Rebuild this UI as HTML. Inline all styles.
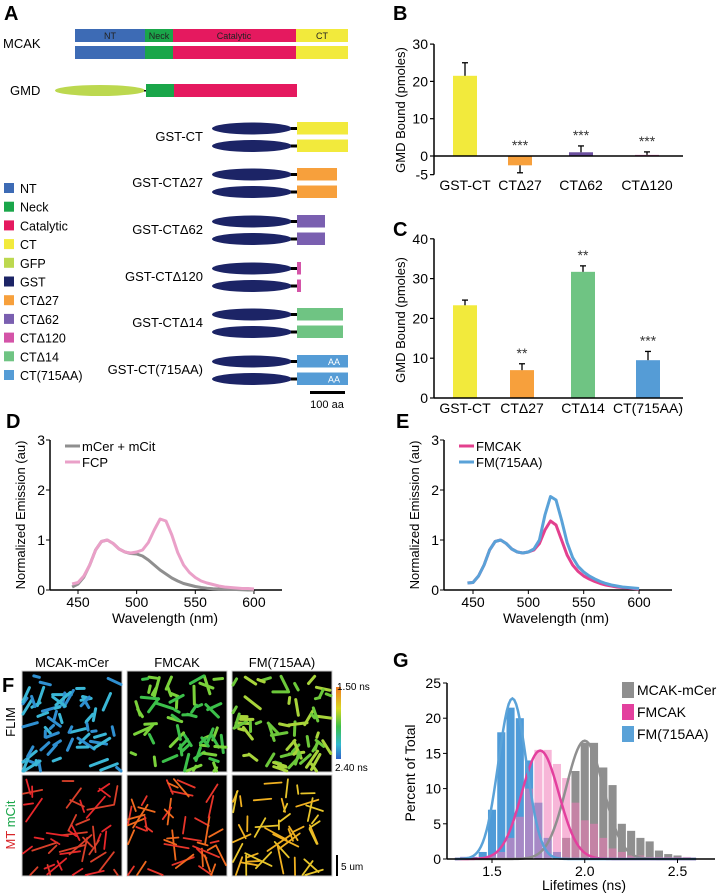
<!DOCTYPE html>
<html><head><meta charset="utf-8"><style>
html,body{margin:0;padding:0;background:#fff;}
svg{display:block;font-family:"Liberation Sans",Arial,sans-serif;}
</style></head><body>
<svg id="fig" width="720" height="893" viewBox="0 0 720 893">
<g id="panelA">
 <text x="4" y="20" font-size="20" font-weight="bold">A</text>
 <text x="3" y="48" font-size="13">MCAK</text>
 <rect x="75" y="29" width="70" height="13" fill="#3d6bb5"/><rect x="145" y="29" width="28" height="13" fill="#1aa64a"/><rect x="173" y="29" width="123" height="13" fill="#e5195f"/><rect x="296" y="29" width="52" height="13" fill="#f2ea3c"/>
 <rect x="75" y="46" width="70" height="13" fill="#3d6bb5"/><rect x="145" y="46" width="28" height="13" fill="#1aa64a"/><rect x="173" y="46" width="123" height="13" fill="#e5195f"/><rect x="296" y="46" width="52" height="13" fill="#f2ea3c"/>
 <g font-size="9" fill="#222" text-anchor="middle"><text x="110" y="39">NT</text><text x="159" y="39">Neck</text><text x="234" y="39">Catalytic</text><text x="322" y="39">CT</text></g>
 <text x="10" y="95" font-size="13">GMD</text>
 <ellipse cx="100" cy="90.5" rx="45" ry="5.5" fill="#bcd84f"/><rect x="144" y="90" width="3" height="1.5" fill="#000"/>
 <rect x="146" y="84" width="28" height="13" fill="#1aa64a"/><rect x="174" y="84" width="123" height="13" fill="#e5195f"/>
 <g id="constructs"></g>
 <g id="legendA"></g>
 <rect x="310" y="391" width="35" height="3" fill="#000"/>
 <text x="327" y="408" font-size="11" text-anchor="middle">100 aa</text>
</g>
<g id="panelB"></g>
<g id="panelC"></g>
<g id="panelD"></g>
<g id="panelE"></g>
<g id="panelF"></g>
<g id="panelG"></g>
</svg>
<script>
// ---- Panel B data ----
const bCats = ["GST-CT","CTΔ27","CTΔ62","CTΔ120"];
const bVals = [21.5,-2.5,1.0,0.3];
const bErr = [3.5,2.0,1.7,0.8];
const bStars = ["","***","***","***"];
const bColors = ["#f2ea3c","#f7a03c","#6b4f9e","#d86fb0"];
const bTicks = [30,20,10,0,-5];
// ---- Panel C data ----
const cCats = ["GST-CT","CTΔ27","CTΔ14","CT(715AA)"];
const cVals = [23.3,7.0,31.7,9.5];
const cErr = [1.3,1.6,1.5,2.2];
const cStars = ["","**","**","***"];
const cColors = ["#f2ea3c","#f7a03c","#6fc483","#559cd6"];
const cTicks = [0,10,20,30,40];
// ---- Panel D/E data ----
const wl = [445,450,455,460,465,470,475,480,485,490,495,500,505,510,515,520,525,530,535,540,545,550,555,560,565,570,575,580,585,590,595,600];
const dGray = [0.06,0.12,0.26,0.5,0.8,0.97,1.0,0.93,0.82,0.76,0.73,0.72,0.68,0.6,0.5,0.4,0.32,0.24,0.18,0.13,0.1,0.07,0.05,0.035,0.025,0.02,0.015,0.01,0.01,0.005,0,0];
const dFCP = [0.12,0.15,0.28,0.5,0.8,0.97,1.0,0.93,0.82,0.76,0.74,0.76,0.8,0.95,1.2,1.42,1.38,1.1,0.75,0.5,0.35,0.25,0.18,0.14,0.11,0.08,0.06,0.05,0.04,0.03,0.03,0.02];
const eFMCAK = [0.14,0.15,0.28,0.5,0.8,0.97,1.0,0.93,0.82,0.76,0.74,0.76,0.8,0.93,1.2,1.38,1.3,1.0,0.7,0.5,0.37,0.28,0.22,0.17,0.13,0.1,0.08,0.06,0.05,0.04,0.03,0.02];
const eFM715 = [0.14,0.15,0.28,0.5,0.8,0.97,1.0,0.93,0.82,0.76,0.74,0.76,0.82,1.0,1.5,1.87,1.8,1.4,0.95,0.65,0.47,0.36,0.28,0.22,0.17,0.13,0.1,0.08,0.06,0.05,0.04,0.03];
const specXTicks = [450,500,550,600];
const specYTicks = [0,1,2,3];
// ---- Panel G data ----
const gBins = [1.35,1.4,1.45,1.5,1.55,1.6,1.65,1.7,1.75,1.8,1.85,1.9,1.95,2.0,2.05,2.1,2.15,2.2,2.25,2.3,2.35,2.4,2.45,2.5,2.55];
const gGray = [0,0,0,0,0,0,0,0,0,0,0.5,3,12.5,16.5,16.5,13,10.5,5,4,3,2.5,1.2,0.7,0.5,0];
const gBlue = [0.3,0.3,1,7,18,21.5,20,14,8,3,1,0,0,0,0,0,0,0,0,0,0,0,0,0,0];
const gPink = [0.3,0,0.3,0.5,1,3,6,10,15.5,15.5,13.5,11.5,8,5.5,5,3,1.5,1,0.5,0.5,0.3,0.3,0.3,0.3,0.3];
const gFitMean = [2.0,1.76,1.61];
const gFitAmp = [16.8,15.4,22.8];
const gFitSd = [0.1,0.1,0.075];
const gNames = ["MCAK-mCer","FMCAK","FM(715AA)"];
const gTicks = [0,5,10,15,20,25];
const gXTicks = [1.5,2.0,2.5];

const NS="http://www.w3.org/2000/svg";
function el(tag,attrs,parent,text){const e=document.createElementNS(NS,tag);for(const k in attrs)e.setAttribute(k,attrs[k]);if(text!==undefined)e.textContent=text;parent.appendChild(e);return e;}

// ---- Panel A constructs ----
(function(){
 const g=document.getElementById('constructs');
 const cons=[["GST-CT",122,348,"#f2ea3c",""],["GST-CTΔ27",168,337,"#f7a03c",""],["GST-CTΔ62",215,325,"#7a5fb0",""],["GST-CTΔ120",262,301,"#d454a8",""],["GST-CTΔ14",308,343,"#6fc483",""],["GST-CT(715AA)",355,348,"#559cd6","AA"]];
 cons.forEach(c=>{
  const lab=el('text',{x:203,y:c[1]+19,'font-size':13,'text-anchor':'end'},g,c[0]);
  
  
  [0,17.5].forEach(dy=>{
   const y=c[1]+dy;
   el('ellipse',{cx:252,cy:y+6.5,rx:40,ry:6,fill:'#1c2466'},g);
   el('rect',{x:291,y:y+5,width:6,height:3,fill:'#000'},g);
   const r=el('rect',{x:297,y:y,width:c[2]-297,height:12.5,fill:c[3]},g);
   
   
   if(c[4]) el('text',{x:340,y:y+10,'font-size':9,'text-anchor':'end',fill:'#fff'},g,c[4]);
  });
 });
 const lg=document.getElementById('legendA');
 const items=[["NT","#3d6bb5"],["Neck","#1aa64a"],["Catalytic","#e5195f"],["CT","#f2ea3c"],["GFP","#bcd84f"],["GST","#1c2466"],["CTΔ27","#f7a03c"],["CTΔ62","#7a5fb0"],["CTΔ120","#d454a8"],["CTΔ14","#6fc483"],["CT(715AA)","#559cd6"]];
 items.forEach((it,i)=>{
  const y=183+i*18.7;
  const s=el('rect',{x:4,y:y,width:10,height:10,fill:it[1]},lg);
  
  
  const t=el('text',{x:20,y:y+10,'font-size':12.5},lg,it[0]);
  
  
 });
})();

// ---- Bar charts ----
function barChart(gid,label,labY,cats,vals,errs,stars,colors,ticks,x0,x1,y0,pxPer,catX,labelY,ylabY){
 const g=document.getElementById(gid);
 const y=v=>y0-v*pxPer;
 el('text',{x:393,y:labY,'font-size':20,'font-weight':'bold'},g,label);
 el('line',{x1:x0,x2:x0,y1:y(ticks.reduce((a,b)=>Math.max(a,b))),y2:y(ticks.reduce((a,b)=>Math.min(a,b))),stroke:'#000','stroke-width':1.5},g);
 ticks.forEach(t=>{el('line',{x1:x0-4,x2:x0,y1:y(t),y2:y(t),stroke:'#000','stroke-width':1.2},g);
  const tl=el('text',{x:x0-6,y:y(t)+5,'font-size':14,'text-anchor':'end'},g,String(t));
  
  });
 cats.forEach((c,i)=>{
  const cx=catX[i],v=vals[i],e=errs[i];
  const top=y(Math.max(v,0)),bot=y(Math.min(v,0));
  const b=el('rect',{x:cx-12,y:top,width:24,height:Math.max(bot-top,1),fill:colors[i]},g);
  
  
  const ev=v+(v<0?-e:e);
  el('line',{x1:cx,x2:cx,y1:y(v),y2:y(ev),stroke:'#000','stroke-width':1.3},g);
  el('line',{x1:cx-3,x2:cx+3,y1:y(ev),y2:y(ev),stroke:'#000','stroke-width':1.3},g);
  const xl=el('text',{x:cx,y:labelY,'font-size':14,'text-anchor':'middle'},g,c);
  
  
  if(stars[i]){const st=el('text',{x:cx,y:y(Math.max(ev,0))-6,'font-size':14,'text-anchor':'middle',fill:'#333'},g,stars[i]);
   
   }
 });
 el('line',{x1:x0,x2:x1,y1:y0,y2:y0,stroke:'#000','stroke-width':1.5},g);
 const yl=el('text',{transform:`translate(405,${ylabY}) rotate(-90)`,'font-size':13,'text-anchor':'middle'},g,'GMD Bound (pmoles)');
 
 
}
barChart('panelB','B',20,bCats,bVals,bErr,bStars,bColors,bTicks,434,683,156,3.73,[465,520,581,647],190,110);
barChart('panelC','C',236,cCats,cVals,cErr,cStars,cColors,cTicks,434,683,398,3.98,[465,522,583,648],413,320);

// ---- Spectra ----
function spectra(gid,label,lx,ax,x450,ppn,axEnd,series,colors,names,cx){
 const g=document.getElementById(gid);
 const X=w=>x450+(w-450)*ppn, Y=v=>590-v*50;
 el('text',{x:lx,y:428,'font-size':20,'font-weight':'bold'},g,label);
 el('line',{x1:ax,x2:ax,y1:440,y2:590,stroke:'#000','stroke-width':1.5},g);
 el('line',{x1:ax,x2:axEnd,y1:590,y2:590,stroke:'#000','stroke-width':1.5},g);
 specYTicks.forEach(t=>{el('line',{x1:ax-4,x2:ax,y1:Y(t),y2:Y(t),stroke:'#000'},g);
  el('text',{x:ax-5,y:Y(t)+5,'font-size':14,'text-anchor':'end'},g,String(t));});
 specXTicks.forEach(t=>{el('line',{x1:X(t),x2:X(t),y1:590,y2:594,stroke:'#000'},g);
  const tl=el('text',{x:X(t),y:607,'font-size':14,'text-anchor':'middle'},g,String(t));
  
  });
 series.forEach((s,i)=>{
  const p=el('polyline',{points:s.map((v,j)=>X(wl[j])+','+Y(v)).join(' '),fill:'none',stroke:colors[i],'stroke-width':3,'stroke-linejoin':'round'},g);
  
  
  el('line',{x1:ax+15,x2:ax+30,y1:446+i*16,y2:446+i*16,stroke:colors[i],'stroke-width':3},g);
  const lt=el('text',{x:ax+32,y:451+i*16,'font-size':13},g,names[i]);
  
  
 });
 el('text',{x:cx,y:623,'font-size':14,'text-anchor':'middle'},g,'Wavelength (nm)');
 el('text',{transform:`translate(${ax-25},515) rotate(-90)`,'font-size':13,'text-anchor':'middle'},g,'Normalized Emission (au)');
}
spectra('panelD','D',6,50,78,1.173,282,[dGray,dFCP],['#8f8f8f','#eaa0c8'],['mCer + mCit','FCP'],165);
spectra('panelE','E',396,444,473,1.107,672,[eFMCAK,eFM715],['#e3408e','#5aa2d8'],['FMCAK','FM(715AA)'],556);

// ---- Panel F ----
(function(){
 const g=document.getElementById('panelF');
 el('text',{x:2,y:692,'font-size':20,'font-weight':'bold'},g,'F');
 const titles=["MCAK-mCer","FMCAK","FM(715AA)"], xs=[22,127,232];
 let seed=7; const rnd=()=>{seed=(seed*16807)%2147483647;return seed/2147483647;};
 const top=[["#3ab7d6","#2f8fd0"],["#3cc04a","#7ad23a"],["#6cc83a","#a8d43a"]];
 const bot=[["#e8262a","#d9402a"],["#f06a1e","#e8352a"],["#f0b020","#e8c52a"]];
 xs.forEach((x,i)=>{
  el('text',{x:x+50,y:667,'font-size':13,'text-anchor':'middle'},g,titles[i]);
  [[671,top[i],3,60,4,16],[775,bot[i],1.8,45,8,22]].forEach(([y,cols,w,n,lmin,lr])=>{
   const r=el('rect',{x:x,y:y,width:100,height:101,fill:'#000',stroke:'#ccc','stroke-width':1},g);
   
   
   for(let k=0;k<n;k++){const a=rnd()*Math.PI,l=lmin+rnd()*lr,px=x+4+rnd()*92,py=y+4+rnd()*93;
    el('line',{x1:px,y1:py,x2:Math.min(x+99,Math.max(x+1,px+Math.cos(a)*l)),y2:Math.min(y+100,Math.max(y+1,py+Math.sin(a)*l)),stroke:cols[k%2],'stroke-width':w,'stroke-linecap':'round'},g);}
  });
 });
 const defs=el('defs',{},g);const lg=el('linearGradient',{id:'cb',x1:0,y1:0,x2:0,y2:1},defs);
 [["0","#f07820"],["0.3","#d8d820"],["0.55","#3cc04a"],["0.8","#30b8d0"],["1","#2f60c8"]].forEach(s=>el('stop',{offset:s[0],'stop-color':s[1]},lg));
 const cb=el('rect',{x:336,y:687,width:5,height:72,fill:'url(#cb)'},g);
 
 
 el('text',{x:337,y:690,'font-size':10},g,'1.50 ns');
 el('text',{x:335,y:771,'font-size':10},g,'2.40 ns');
 el('rect',{x:336,y:855,width:2,height:21,fill:'#000'},g);
 el('text',{x:341,y:870,'font-size':10},g,'5 um');
 el('text',{transform:'translate(15,722) rotate(-90)','font-size':13,'text-anchor':'middle'},g,'FLIM');
 const mt=el('text',{transform:'translate(15,825) rotate(-90)','font-size':13,'text-anchor':'middle'},g);
 el('tspan',{fill:'#d8262a'},mt,'MT ');el('tspan',{fill:'#1aa64a'},mt,'mCit');
})();

// ---- Panel G ----
(function(){
 const g=document.getElementById('panelG');
 const X=t=>492+(t-1.5)*185.5, Y=p=>859-p*7.04, bw=0.05*185.5;
 el('text',{x:393,y:667,'font-size':20,'font-weight':'bold'},g,'G');
 const sets=[[gGray,'#8f8f8f',1],[gBlue,'#4f9bd8',1],[gPink,'#f07ab8',0.55]];
 sets.forEach(([arr,col,op])=>{
  arr.forEach((v,j)=>{ if(v<=0) return;
   const b=el('rect',{x:X(gBins[j])-bw/2+0.6,y:Y(v),width:bw-1.2,height:859-Y(v),fill:col,'fill-opacity':op},g);
   
   
  });
 });
 const curveCols=['#8f8f8f','#e3409e','#5aa2d8'];
 gFitMean.forEach((m,i)=>{
  const pts=[];for(let t=1.3;t<=2.6;t+=0.01){const v=gFitAmp[i]*Math.exp(-((t-m)**2)/(2*gFitSd[i]**2));pts.push(X(t)+','+Y(v));}
  const p=el('polyline',{points:pts.join(' '),fill:'none',stroke:curveCols[i],'stroke-width':2.5},g);
  
  
 });
 el('line',{x1:447,x2:447,y1:683,y2:859,stroke:'#000','stroke-width':1.5},g);
 el('line',{x1:447,x2:715,y1:859,y2:859,stroke:'#000','stroke-width':1.5},g);
 gTicks.forEach(t=>{el('line',{x1:443,x2:447,y1:Y(t),y2:Y(t),stroke:'#000'},g);
  el('text',{x:441,y:Y(t)+5,'font-size':14,'text-anchor':'end'},g,String(t));});
 gXTicks.forEach(t=>{el('line',{x1:X(t),x2:X(t),y1:859,y2:863,stroke:'#000'},g);
  el('text',{x:X(t),y:876,'font-size':14,'text-anchor':'middle'},g,t.toFixed(1));});
 el('text',{x:584,y:890,'font-size':14,'text-anchor':'middle'},g,'Lifetimes (ns)');
 el('text',{transform:'translate(415,773) rotate(-90)','font-size':14,'text-anchor':'middle'},g,'Percent of Total');
 const lc=['#8f8f8f','#e3409e','#5aa2d8'];
 gNames.forEach((n,i)=>{
  const s=el('rect',{x:622,y:682+i*22,width:12,height:16,fill:lc[i]},g);
  
  
  const t=el('text',{x:637,y:695+i*22,'font-size':14},g,n);
  
  
 });
})();
</script>
</body></html>
